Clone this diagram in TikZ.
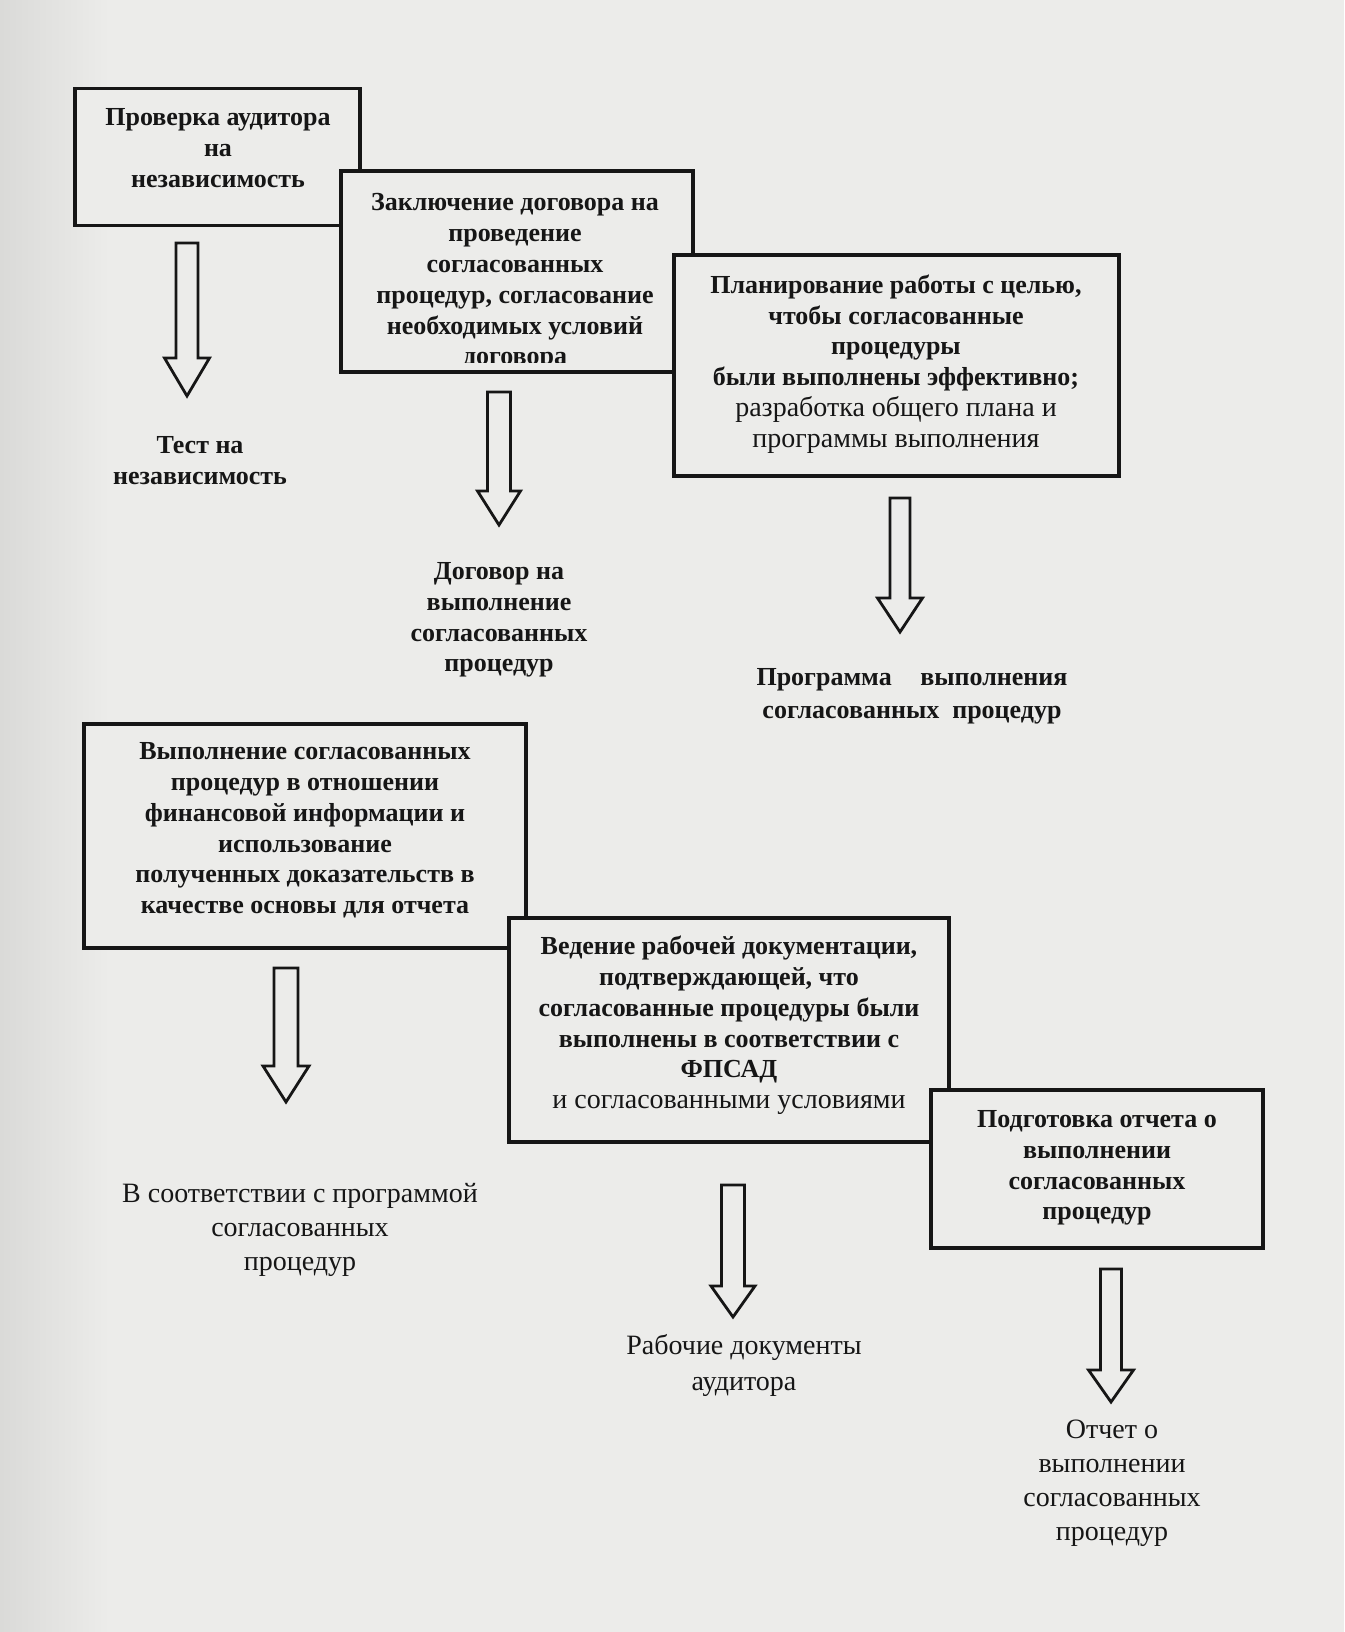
\documentclass[tikz,border=0pt]{standalone}
\usepackage{fontspec}
\setmainfont{Liberation Serif}
\usetikzlibrary{calc}
\definecolor{paper}{RGB}{236,236,234}
\definecolor{paperdark}{RGB}{218,218,216}
\definecolor{ink}{RGB}{22,22,22}
\tikzset{
  boxshape/.style={draw=ink, line width=1.6pt, fill=paper, rectangle, inner sep=0pt},
  boldtext/.style={inner sep=0pt, align=center, text=ink, font=\fontsize{13}{15.4}\selectfont\bfseries},
  plaintext/.style={inner sep=0pt, align=center, text=ink, font=\fontsize{14}{17}\selectfont},
  blockarrow/.style={draw=ink, line width=1.4pt, line join=miter, fill=paper},
}
% #1 start, #2 tip, #3 shaft half width, #4 head half width, #5 head length
\newcommand\hollowarrow[5]{%
  \draw[blockarrow] ($(#1)+(-#3,0)$) -- ($(#1)+(#3,0)$) -- ($(#2)+(#3,-#5)$)
    -- ($(#2)+(#4,-#5)$) -- (#2) -- ($(#2)+(-#4,-#5)$) -- ($(#2)+(-#3,-#5)$) -- cycle;}
\begin{document}
\begin{tikzpicture}[x=0.5pt,y=-0.5pt]
\fill[paper] (0,0) rectangle (1344,1632);
\shade[left color=paperdark, right color=paper, shading angle=90] (0,0) rectangle (110,1632);
\useasboundingbox (0,0) rectangle (1344,1632);

% Box 1
\node[boxshape, minimum width=142.5pt, minimum height=68.5pt] (b1) at (217.5,157) {};
\node[boldtext] (t1) at (218,148) {Проверка аудитора\\на\\независимость};

% Box 2
\node[boxshape, minimum width=176pt, minimum height=100.5pt] (b2) at (517,271.5) {};
\begin{scope}
  \clip (341,171) rectangle (693,362);
  \node[boldtext] (t2) at (515,282) {Заключение договора на\\проведение\\согласованных\\процедур, согласование\\необходимых условий\\договора};
\end{scope}

% Box 3
\node[boxshape, minimum width=222.5pt, minimum height=110.5pt] (b3) at (896.5,365.5) {};
\node[boldtext] (t3) at (896,364) {Планирование работы с целью,\\чтобы согласованные\\процедуры\\были выполнены эффективно;\\{\fontsize{14}{16}\selectfont\mdseries разработка общего плана и}\\{\fontsize{14}{16}\selectfont\mdseries программы выполнения}};

% Box 4
\node[boxshape, minimum width=221pt, minimum height=112pt] (b4) at (305,836) {};
\node[boldtext] (t4) at (305,830.5) {Выполнение согласованных\\процедур в отношении\\финансовой информации и\\использование\\полученных доказательств в\\качестве основы для отчета};

% Box 5
\node[boxshape, minimum width=220pt, minimum height=112pt] (b5) at (729,1030) {};
\node[boldtext] (t5) at (729,1025.5) {Ведение рабочей документации,\\подтверждающей, что\\согласованные процедуры были\\выполнены в соответствии с\\ФПСАД\\{\fontsize{14}{16}\selectfont\mdseries и согласованными условиями}};

% Box 6
\node[boxshape, minimum width=166pt, minimum height=79pt] (b6) at (1097,1169) {};
\node[boldtext] (t6) at (1097,1168) {Подготовка отчета о\\выполнении\\согласованных\\процедур};

% Free texts
\node[boldtext] (f1) at (200,461) {Тест на\\независимость};
\node[boldtext] (f2) at (499,620) {Договор на\\выполнение\\согласованных\\процедур};
\node[boldtext, font=\fontsize{13}{16.5}\selectfont\bfseries] (f3) at (912,696) {Программа\hspace{1.1em}выполнения\\согласованных\hspace{0.5em}процедур};
\node[plaintext] (f4) at (300,1230) {В соответствии с программой\\согласованных\\процедур};
\node[plaintext, font=\fontsize{14}{18}\selectfont] (f5) at (744,1365) {Рабочие документы\\аудитора};
\node[plaintext] (f6) at (1112,1483) {Отчет о\\выполнении\\согласованных\\процедур};

% Block arrows
\coordinate (a1s) at (187,243);  \coordinate (a1e) at (187,396);
\coordinate (a2s) at (499,392);  \coordinate (a2e) at (499,525);
\coordinate (a3s) at (900,498);  \coordinate (a3e) at (900,632);
\coordinate (a4s) at (286,968);  \coordinate (a4e) at (286,1102);
\coordinate (a5s) at (733,1185); \coordinate (a5e) at (733,1317);
\coordinate (a6s) at (1111,1269); \coordinate (a6e) at (1111,1402);
\hollowarrow{a1s}{a1e}{11}{22.5}{38}
\hollowarrow{a2s}{a2e}{11.5}{21.5}{34}
\hollowarrow{a3s}{a3e}{10}{22.5}{34}
\hollowarrow{a4s}{a4e}{12}{23}{36}
\hollowarrow{a5s}{a5e}{11.5}{22}{31}
\hollowarrow{a6s}{a6e}{10.5}{22.5}{32}
\end{tikzpicture}
\end{document}
